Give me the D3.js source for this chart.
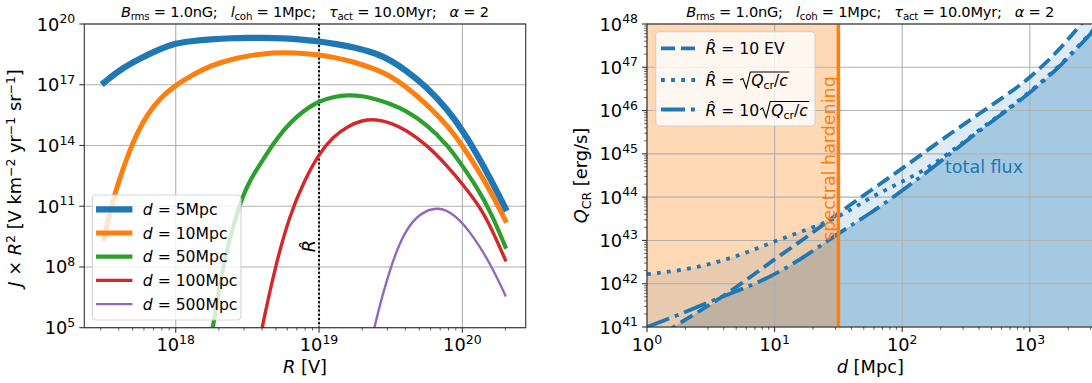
<!DOCTYPE html>
<html>
<head>
<meta charset="utf-8">
<script src="https://cdn.jsdelivr.net/npm/d3@7"></script>
<style>
  body { margin: 0; background: #fff; }
  svg { font-family: "DejaVu Sans", sans-serif; }
  text { white-space: pre; }
</style>
</head>
<body>
<svg id="fig" width="1092" height="383"></svg>
<script>
// ---- data (log10 values) ----
// left panel: J x R^2 vs R for several source distances
const d5R   = [17.5,17.6,17.75,17.9,18.0,18.1,18.25,18.4,18.5,18.6,18.75,18.9,19.0,19.1,19.25,19.4,19.5,19.6,19.75,19.9,20.0,20.1,20.2,20.3];
const d5J   = [17.1,17.7,18.3,18.8,19.05,19.15,19.25,19.3,19.32,19.32,19.3,19.22,19.14,19.03,18.85,18.55,18.2,17.75,16.9,15.75,14.75,13.6,12.3,10.9];
const d10R  = [17.5,17.55,17.6,17.7,17.8,17.9,18.0,18.1,18.25,18.4,18.5,18.6,18.75,18.9,19.0,19.1,19.25,19.4,19.5,19.6,19.75,19.9,20.0,20.1,20.2,20.3];
const d10J  = [9.4,11.0,12.2,14.2,15.55,16.4,16.98,17.42,17.97,18.27,18.42,18.53,18.6,18.55,18.47,18.36,18.12,17.75,17.42,16.95,16.05,14.95,14.0,12.9,11.7,10.3];
const d50R  = [18.2,18.26,18.28,18.35,18.45,18.5,18.55,18.6,18.7,18.8,18.9,19.0,19.1,19.2,19.3,19.4,19.5,19.6,19.75,19.9,20.0,20.1,20.2,20.3];
const d50J  = [2.6,5.0,6.0,8.8,11.2,12.0,12.65,13.2,14.3,15.15,15.75,16.2,16.4,16.5,16.45,16.28,16.05,15.75,15.05,14.0,13.0,11.95,10.7,9.0];
const d100R = [18.55,18.6,18.7,18.8,18.9,19.0,19.1,19.2,19.3,19.4,19.5,19.6,19.75,19.9,20.0,20.12,20.2,20.3];
const d100J = [3.0,4.97,8.2,10.65,12.3,13.6,14.45,14.95,15.25,15.3,15.12,14.8,14.05,12.95,12.1,11.0,9.95,8.35];
const d500R = [19.33,19.38,19.5,19.6,19.7,19.83,19.95,20.08,20.2,20.3];
const d500J = [3.0,4.97,8.1,9.8,10.65,11.0,10.6,9.5,8.1,6.6];
const distLabels = ['5Mpc','10Mpc','50Mpc','100Mpc','500Mpc'];
const Rhat = 19;   // vertical marker, log10 R

// right panel: required Q_CR vs distance
const logD      = [0,0.25,0.5,0.75,1,1.25,1.5,1.75,2,2.25,2.5,2.75,3,3.25,3.5];
const qFixed    = [40.6,41.08,41.52,42.02,42.57,43.07,43.63,44.15,44.66,45.2,45.72,46.22,46.74,47.45,48.35];
const qSqrt     = [42.22,42.3,42.45,42.68,42.98,43.25,43.52,44.0,44.35,44.75,45.32,45.87,46.42,47.07,47.87];
const qTenSqrt  = [41.0,41.28,41.6,41.88,42.2,42.65,43.17,43.62,44.15,44.7,45.3,45.85,46.4,47.05,47.85];
const hardeningD = 1.5;  // log10 d of spectral hardening edge

// tick exponents
const leftXTicks  = [18,19,20];
const leftYTicks  = [5,8,11,14,17,20];
const rightXTicks = [0,1,2,3];
const rightYTicks = [41,42,43,44,45,46,47,48];

// ---- helpers ----
const C0='#1f77b4', C1='#ff7f0e', C2='#2ca02c', C3='#d62728', C4='#9467bd';
const TICK = 17.8, LAB = 17.8;
const svg = d3.select('#fig');
const defs = svg.append('defs');

// rich text: segs = [{t, it, sub, sup}]
function rich(g, segs, x, y, size, opts={}){
  const t = g.append('text').attr('x',x).attr('y',y).attr('font-size',size)
    .attr('fill',opts.fill||'#000').attr('text-anchor',opts.anchor||'start');
  if(opts.transform) t.attr('transform',opts.transform);
  let off = 0;
  segs.forEach(s=>{
    const sp = t.append('tspan').text(s.t);
    let target = 0;
    if(s.sub) target = 0.22*size;
    if(s.sup) target = -(s.supRaise||0.42)*size;
    sp.attr('dy', target-off); off = target;
    if(s.sub||s.sup) sp.attr('font-size', size*0.7);
    if(s.it) sp.attr('font-style','italic');
  });
  return t;
}
function pow10Label(g, x, y, e, anchor){
  return rich(g,[{t:'10'},{t:String(e),sup:1}],x,y,TICK,{anchor});
}

function makePanel(id, box, xDom, yDom){
  const x = d3.scaleLog().domain(xDom).range([box.l,box.r]);
  const y = d3.scaleLog().domain(yDom).range([box.b,box.t]);
  defs.append('clipPath').attr('id',id).append('rect')
    .attr('x',box.l).attr('y',box.t).attr('width',box.r-box.l).attr('height',box.b-box.t);
  const g = svg.append('g');
  return {x,y,box,g,clip:`url(#${id})`};
}
function minorTicks(dom){
  const lo=Math.floor(Math.log10(dom[0])), hi=Math.ceil(Math.log10(dom[1]));
  const out=[];
  for(let e=lo;e<hi;e++) for(let k=2;k<10;k++){ const v=k*10**e; if(v>=dom[0]&&v<=dom[1]) out.push(v); }
  return out;
}
function grid(P, xt, yt){
  const gg=P.g.append('g').attr('stroke','#b0b0b0').attr('stroke-width',1.1);
  xt.forEach(e=>gg.append('line').attr('x1',P.x(10**e)).attr('x2',P.x(10**e)).attr('y1',P.box.t).attr('y2',P.box.b));
  yt.forEach(e=>gg.append('line').attr('y1',P.y(10**e)).attr('y2',P.y(10**e)).attr('x1',P.box.l).attr('x2',P.box.r));
}
function axes(P, xt, yt, xMinor, yMinor){
  const g=P.g.append('g'), b=P.box;
  g.append('rect').attr('x',b.l).attr('y',b.t).attr('width',b.r-b.l).attr('height',b.b-b.t)
    .attr('fill','none').attr('stroke','#333').attr('stroke-width',1.1);
  const tk=g.append('g').attr('stroke','#333').attr('stroke-width',1.1);
  xt.forEach(e=>{ const xx=P.x(10**e); tk.append('line').attr('x1',xx).attr('x2',xx).attr('y1',b.b).attr('y2',b.b+5); });
  yt.forEach(e=>{ const yy=P.y(10**e); tk.append('line').attr('y1',yy).attr('y2',yy).attr('x1',b.l).attr('x2',b.l-5); });
  if(xMinor) minorTicks(P.x.domain()).forEach(v=>{ const xx=P.x(v); tk.append('line').attr('x1',xx).attr('x2',xx).attr('y1',b.b).attr('y2',b.b+2.8).attr('stroke-width',0.8); });
  if(yMinor) minorTicks(P.y.domain()).forEach(v=>{ const yy=P.y(v); tk.append('line').attr('y1',yy).attr('y2',yy).attr('x1',b.l).attr('x2',b.l-2.8).attr('stroke-width',0.8); });
  xt.forEach(e=>pow10Label(g,P.x(10**e),351,e,'middle'));
  yt.forEach(e=>pow10Label(g,b.l-9,P.y(10**e)+6.5,e,'end'));
}
function title(P){
  rich(P.g,[{t:'B',it:1},{t:'rms',sub:1},{t:' = 1.0nG;   '},{t:'l',it:1},{t:'coh',sub:1},{t:' = 1Mpc;   '},
    {t:'τ',it:1},{t:'act',sub:1},{t:' = 10.0Myr;   '},{t:'α',it:1},{t:' = 2'}],
    (P.box.l+P.box.r)/2, 17, 14.6, {anchor:'middle'})
    .attr('textLength',368).attr('lengthAdjust','spacing');
}
function legendBox(g, x0, y0, x1, y1){
  g.append('rect').attr('x',x0).attr('y',y0).attr('width',x1-x0).attr('height',y1-y0).attr('rx',4)
    .attr('fill','#fff').attr('fill-opacity',0.8).attr('stroke','#ccc').attr('stroke-opacity',0.8).attr('stroke-width',1.2);
}
const smooth = d3.curveBasis;

// ---- left panel ----
const L = makePanel('clipL',{l:84.3,r:525.7,t:24,b:327.7},[10**17.362,10**20.442],[1e5,1e20]);
grid(L, leftXTicks, leftYTicks);
const series = [
  {R:d5R,  J:d5J,  c:C0, w:6.2},
  {R:d10R, J:d10J, c:C1, w:5.0},
  {R:d50R, J:d50J, c:C2, w:4.2},
  {R:d100R,J:d100J,c:C3, w:3.4},
  {R:d500R,J:d500J,c:C4, w:2.4}
];
const lineL = d3.line().x(d=>L.x(10**d[0])).y(d=>L.y(10**d[1])).curve(smooth);
const gl = L.g.append('g').attr('clip-path',L.clip);
gl.append('line').attr('x1',L.x(10**Rhat)).attr('x2',L.x(10**Rhat)).attr('y1',L.box.t).attr('y2',L.box.b)
  .attr('stroke','#000').attr('stroke-width',2).attr('stroke-dasharray','2,2.2');
series.forEach(s=>{
  gl.append('path').attr('d',lineL(s.R.map((r,i)=>[r,s.J[i]]))).attr('fill','none')
    .attr('stroke',s.c).attr('stroke-width',s.w).attr('stroke-linecap','square');
});
rich(L.g,[{t:'R̂',it:1}],315,246,LAB,{anchor:'middle',transform:'rotate(-90,315,246)'});
axes(L, leftXTicks, leftYTicks, true, false);
title(L);
rich(L.g,[{t:'R',it:1},{t:' [V]'}],(L.box.l+L.box.r)/2,373,LAB,{anchor:'middle'});
rich(L.g,[{t:'J',it:1},{t:' × '},{t:'R',it:1},{t:'2',sup:1,supRaise:0.36},{t:' [V km'},{t:'−2',sup:1,supRaise:0.36},{t:' yr'},{t:'−1',sup:1,supRaise:0.36},{t:' sr'},{t:'−1',sup:1,supRaise:0.36},{t:']'}],
  21,178,LAB,{anchor:'middle',transform:'rotate(-90,21,178)'});
// legend
const lgL = L.g.append('g');
legendBox(lgL,92.3,195,241,320);
series.forEach((s,i)=>{
  const yy = 209.3 + i*23.7;
  lgL.append('line').attr('x1',96).attr('x2',132.4).attr('y1',yy).attr('y2',yy).attr('stroke',s.c).attr('stroke-width',s.w);
  rich(lgL,[{t:'d',it:1},{t:' = '+distLabels[i]}],142.8,yy+5.5,15.6);
});

// ---- right panel ----
const Rp = makePanel('clipR',{l:647,r:1093.6,t:24,b:327},[1,10**3.5],[1e41,1e48]);
const rows = logD.map((d,i)=>({d, a:qFixed[i], b:qSqrt[i], c:qTenSqrt[i]}));
const gr = Rp.g.append('g').attr('clip-path',Rp.clip);
const xR = d=>Rp.x(10**d), yR = q=>Rp.y(10**q);
const lowArea = d3.area().x(r=>xR(r.d)).y0(Rp.box.b).y1(r=>yR(Math.min(r.a,r.b,r.c))).curve(smooth);
const band = d3.area().x(r=>xR(r.d)).y0(r=>yR(Math.min(r.a,r.b,r.c))).y1(r=>yR(Math.max(r.a,r.b,r.c))).curve(smooth);
gr.append('path').attr('d',lowArea(rows)).attr('fill',C0).attr('fill-opacity',0.4);
gr.append('path').attr('d',band(rows)).attr('fill',C0).attr('fill-opacity',0.15);
gr.append('rect').attr('x',Rp.box.l).attr('y',Rp.box.t).attr('width',xR(hardeningD)-Rp.box.l).attr('height',Rp.box.b-Rp.box.t)
  .attr('fill',C1).attr('fill-opacity',0.3);
grid(Rp, rightXTicks, rightYTicks);
const gr2 = Rp.g.append('g').attr('clip-path',Rp.clip);
const lineStyles = [
  {key:'a', dash:'14,6'},
  {key:'b', dash:'3.8,6.3'},
  {key:'c', dash:'24,6,3.8,6'}
];
lineStyles.forEach(st=>{
  const ln = d3.line().x(r=>xR(r.d)).y(r=>yR(r[st.key])).curve(smooth);
  gr2.append('path').attr('d',ln(rows)).attr('fill','none').attr('stroke',C0).attr('stroke-width',3.8).attr('stroke-dasharray',st.dash);
});
gr2.append('line').attr('x1',xR(hardeningD)).attr('x2',xR(hardeningD)).attr('y1',Rp.box.t).attr('y2',Rp.box.b)
  .attr('stroke',C1).attr('stroke-width',3.5);
gr2.append('text').attr('transform','translate(835,158.5) rotate(-90)').attr('text-anchor','middle')
  .attr('font-size',17.5).attr('fill',C1).text('spectral hardening');
gr2.append('text').attr('x',945).attr('y',173).attr('font-size',17.5).attr('fill',C0).text('total flux');
axes(Rp, rightXTicks, rightYTicks, true, true);
title(Rp);
rich(Rp.g,[{t:'d',it:1},{t:' [Mpc]'}],(Rp.box.l+Rp.box.r)/2,373,LAB,{anchor:'middle'});
rich(Rp.g,[{t:'Q',it:1},{t:'CR',sub:1},{t:' [erg/s]'}],587,175.5,LAB,{anchor:'middle',transform:'rotate(-90,587,175.5)'});

// legend with sqrt labels
const lgR = Rp.g.append('g');
legendBox(lgR,655.7,31.7,815,126);
const rowY = [48.3,80,109.5];
lineStyles.forEach((st,i)=>{
  lgR.append('line').attr('x1',661).attr('x2',696).attr('y1',rowY[i]).attr('y2',rowY[i])
    .attr('stroke',C0).attr('stroke-width',3.8).attr('stroke-dasharray',st.dash);
});
const FS = 15.6;
rich(lgR,[{t:'R̂',it:1},{t:' = 10 EV'}],705.5,rowY[0]+5.5,FS);
function sqrtLabel(pre, yb){
  const t1 = rich(lgR,[{t:'R̂',it:1},{t:pre}],705.5,yb,FS);
  const x0 = 705.5 + t1.node().getComputedTextLength() + 1;
  const t2 = rich(lgR,[{t:'Q',it:1},{t:'cr',sub:1},{t:'/'},{t:'c',it:1}],x0+11,yb,FS);
  const x1 = x0 + 11 + t2.node().getBBox().width + 1;
  lgR.append('path').attr('d',`M${x0},${yb-6} L${x0+2.5},${yb-7.5} L${x0+6},${yb+2} L${x0+10},${yb-14} L${x1},${yb-14}`)
    .attr('fill','none').attr('stroke','#000').attr('stroke-width',1.1);
}
sqrtLabel(' = ', rowY[1]+6);
sqrtLabel(' = 10', rowY[2]+6);
</script>
</body>
</html>
